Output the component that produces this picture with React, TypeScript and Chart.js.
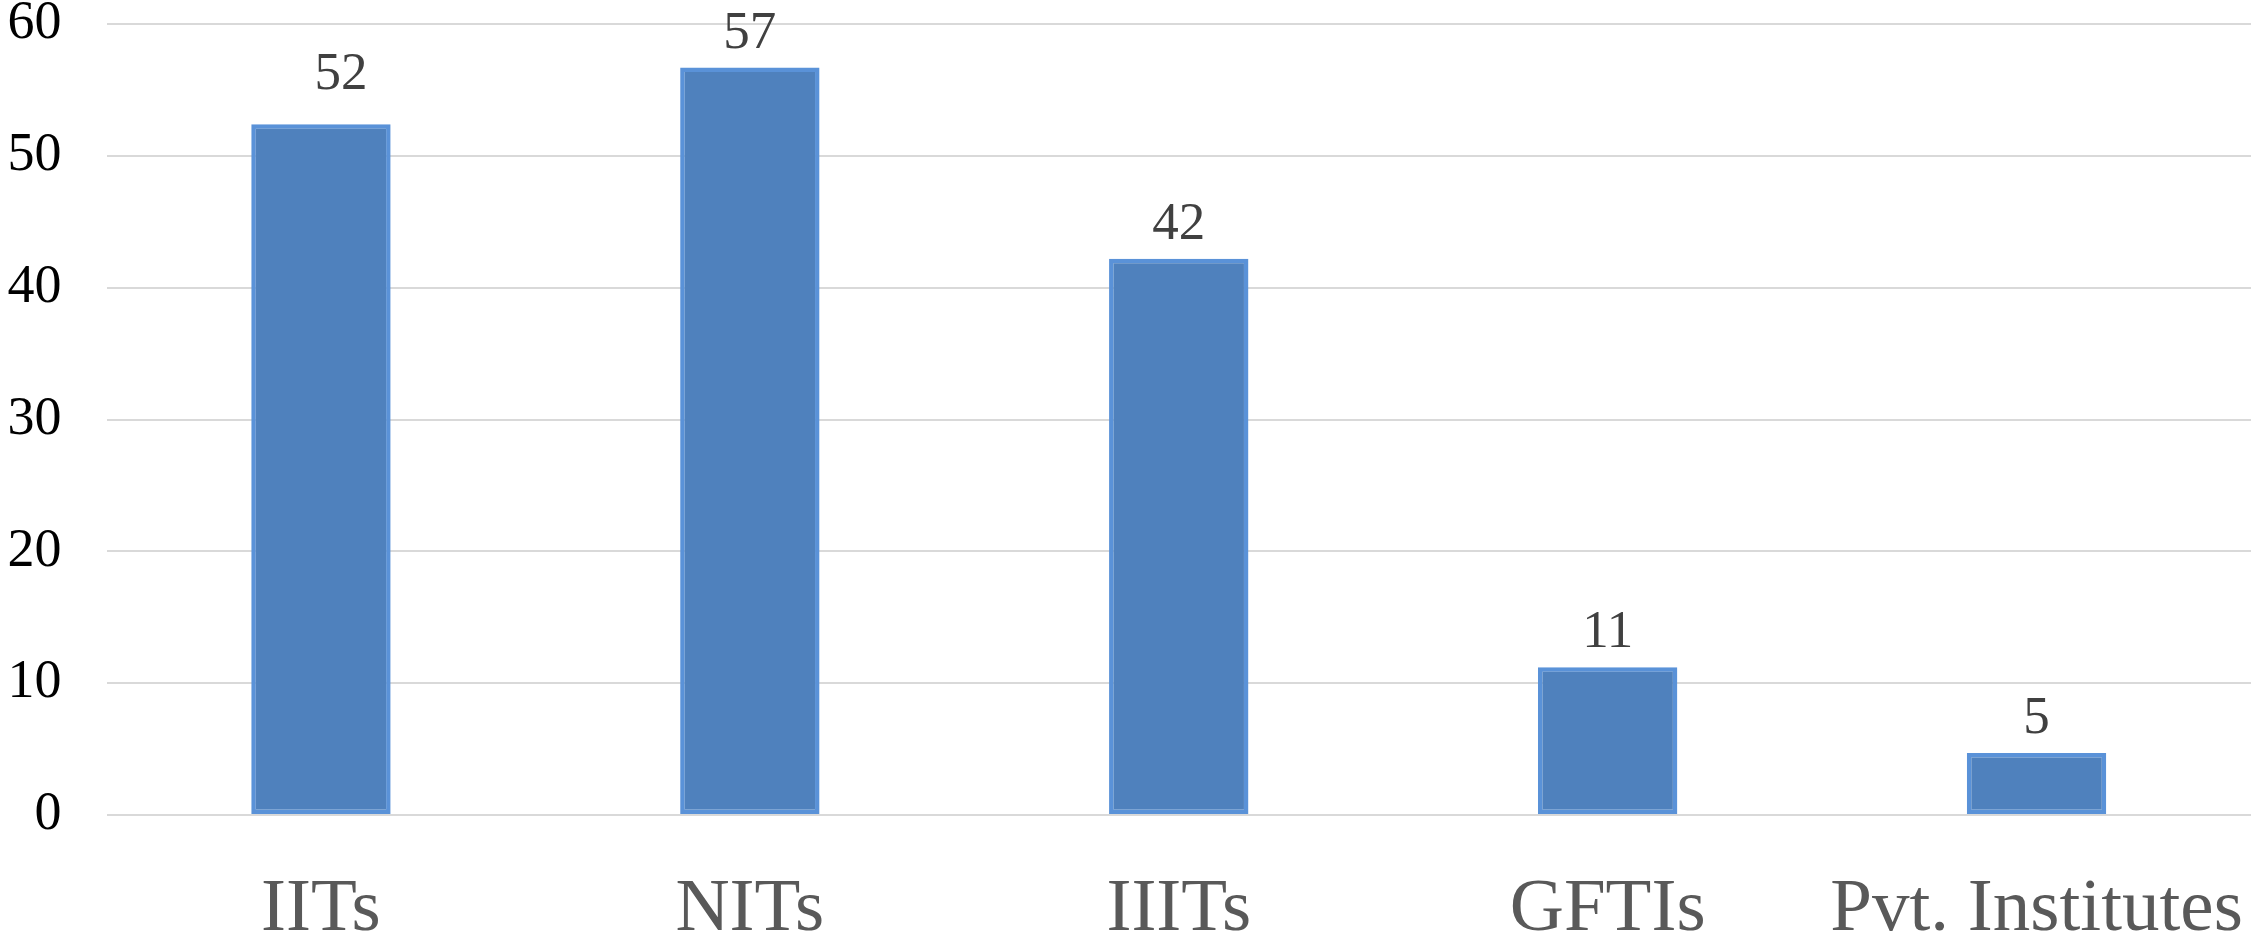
import React, { useEffect, useRef } from "react";
import { Chart, registerables } from "chart.js";

Chart.register(...registerables);

const categories = ["IITs", "NITs", "IIITs", "GFTIs", "Pvt. Institutes"];
const values = [52.4, 56.7, 42.2, 11.2, 4.7];
const valueLabels = ["52", "57", "42", "11", "5"];
const yTicks = [0, 10, 20, 30, 40, 50, 60];

const SERIF = "'Liberation Serif', 'Times New Roman', serif";

const labelPlugin = {
  id: "barValueLabels",
  afterDatasetsDraw(chart: any, _args: any, opts: any) {
    const ctx = chart.ctx;
    const meta = chart.getDatasetMeta(0);
    ctx.save();
    ctx.font = `53px ${SERIF}`;
    ctx.fillStyle = "#404040";
    ctx.textAlign = "center";
    ctx.textBaseline = "alphabetic";
    meta.data.forEach((bar: any, i: number) => {
      const lift = (opts.lift && opts.lift[i]) || 20;
      const dx = (opts.dx && opts.dx[i]) || 0;
      ctx.fillText(valueLabels[i], bar.x + dx, bar.y - lift);
    });
    ctx.restore();
  },
};

export default function App() {
  const ref = useRef<HTMLCanvasElement | null>(null);
  useEffect(() => {
    document.body.style.margin = "0";
    if (!ref.current) return;
    const chart = new Chart(ref.current, {
      type: "bar",
      data: {
        labels: categories,
        datasets: [
          {
            data: values,
            backgroundColor: "#4F81BD",
            borderColor: "#5A92D8",
            borderWidth: 4.5,
            borderSkipped: false,
            categoryPercentage: 1,
            barPercentage: 0.325,
          },
        ],
      },
      options: {
        responsive: false,
        animation: false,
        devicePixelRatio: 1,
        layout: { padding: { left: 0, right: 2, top: 0, bottom: 0 } },
        plugins: {
          legend: { display: false },
          tooltip: { enabled: false },
          barValueLabels: { lift: [35, 20, 20, 20, 20], dx: [20, 0, 0, 0, 0] },
        } as any,
        scales: {
          x: {
            grid: { display: false },
            border: { display: false },
            ticks: {
              color: "#595959",
              font: { family: SERIF, size: 75 },
              padding: 42,
              maxRotation: 0,
              autoSkip: false,
            },
            afterFit: (scale: any) => {
              scale.height = 120;
              scale.paddingLeft = 0;
              scale.paddingRight = 0;
            },
          },
          y: {
            min: 0,
            max: 60,
            afterBuildTicks: (scale: any) => {
              scale.ticks = yTicks.map((v) => ({ value: v }));
            },
            grid: { color: "#D9D9D9", lineWidth: 2, drawTicks: false, tickLength: 0 },
            border: { display: false },
            ticks: {
              color: "#000000",
              font: { family: SERIF, size: 54 },
              padding: 45,
            },
            afterFit: (scale: any) => {
              scale.width = 106.5;
              scale.paddingTop = 24;
              scale.paddingBottom = 0;
            },
          },
        },
      },
      plugins: [labelPlugin],
    });
    return () => chart.destroy();
  }, []);
  return (
    <div style={{ width: 2253, height: 935 }}>
      <canvas ref={ref} width={2253} height={935} style={{ display: "block" }} />
    </div>
  );
}
